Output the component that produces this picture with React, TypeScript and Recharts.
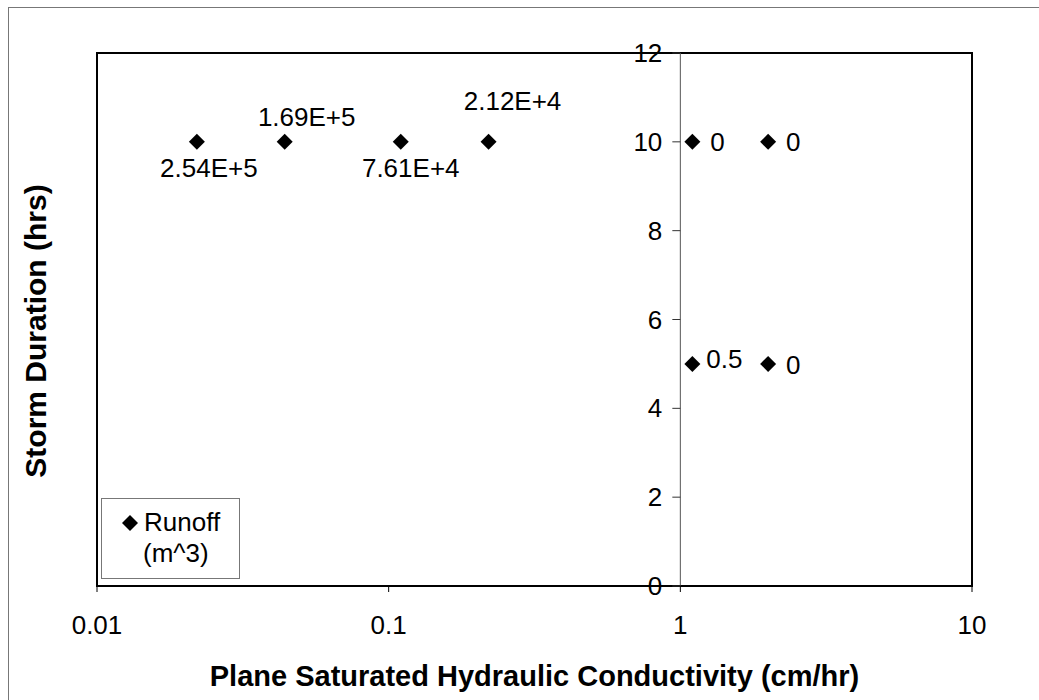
import { ReferenceArea, ReferenceLine, Scatter, ScatterChart, XAxis, YAxis } from "recharts";

// Runoff (m^3) by plane conductivity and storm duration
const conductivity = [0.022, 0.044, 0.11, 0.22, 1.1, 2, 1.1, 2];
const duration = [10, 10, 10, 10, 10, 10, 5, 5];
const runoffLabels = ["2.54E+5", "1.69E+5", "7.61E+4", "2.12E+4", "0", "0", "0.5", "0"];
const xTicks = [0.01, 0.1, 1, 10];
const yTicks = [0, 2, 4, 6, 8, 10, 12];

// hand-placed label offsets (dx, dy) from each point, like the dragged Excel labels
const labelOffsets: [number, number][] = [
  [12, 26], [22, -25], [10, 26], [24, -41],
  [25, 0], [25, 0], [32, -5], [25, 1],
];

const FONT = "'Liberation Sans', Arial, sans-serif";
const W = 1039;
const H = 700;
const Y_AXIS_W = 1;
const M = { top: 53, right: 67, bottom: 0, left: 97 - Y_AXIS_W };
const X_AXIS_H = 114;
const PLOT_LEFT = M.left + Y_AXIS_W;
const PLOT_W = W - PLOT_LEFT - M.right;
// the y axis crosses the x axis at 1 on a 0.01..10 log scale
const AXIS_X = PLOT_LEFT + (PLOT_W * (Math.log10(1) - Math.log10(0.01))) / (Math.log10(10) - Math.log10(0.01));

const data = conductivity.map((k, i) => ({ k, d: duration[i], label: runoffLabels[i], i }));

function Point(props: any) {
  const { cx, cy, payload } = props;
  if (cx == null || cy == null) return null;
  const [dx, dy] = labelOffsets[payload.i];
  const r = 8;
  return (
    <g>
      <polygon points={`${cx},${cy - r} ${cx + r},${cy} ${cx},${cy + r} ${cx - r},${cy}`} fill="#000" />
      <text x={cx + dx} y={cy + dy} textAnchor="middle" dominantBaseline="central" fontSize={26} fontFamily={FONT} fill="#000">
        {payload.label}
      </text>
    </g>
  );
}

function YTick(props: any) {
  const { y, payload } = props;
  return (
    <g>
      <line x1={AXIS_X - 8} x2={AXIS_X} y1={y} y2={y} stroke="#333" />
      <text x={AXIS_X - 18} y={y} textAnchor="end" dominantBaseline="central" fontSize={26} fontFamily={FONT} fill="#000">
        {payload.value}
      </text>
    </g>
  );
}

export default function App() {
  return (
    <div style={{ position: "absolute", left: 0, top: 0, width: W, height: H, background: "#fff", fontFamily: FONT }}>
      <div style={{ position: "absolute", left: 8, top: 7, right: 0, bottom: 0, borderLeft: "1px solid #777", borderTop: "1px solid #777" }} />
      <ScatterChart width={W} height={H} margin={M}>
        <XAxis
          type="number"
          dataKey="k"
          scale="log"
          domain={[0.01, 10]}
          ticks={xTicks}
          allowDataOverflow
          height={X_AXIS_H}
          tickFormatter={(v: number) => String(v)}
          tick={{ fontSize: 26, fill: "#000", fontFamily: FONT }}
          tickSize={6}
          tickMargin={24}
          stroke="#000"
          label={{
            value: "Plane Saturated Hydraulic Conductivity (cm/hr)",
            position: "insideBottom",
            offset: 14,
            style: { fontSize: 29, fontWeight: "bold", fill: "#000", fontFamily: FONT },
          }}
        />
        <YAxis
          type="number"
          dataKey="d"
          domain={[0, 12]}
          ticks={yTicks}
          width={Y_AXIS_W}
          axisLine={false}
          tickLine={false}
          interval={0}
          tick={(p: any) => <YTick {...p} />}
        />
        <ReferenceArea x1={0.01} x2={10} y1={0} y2={12} fill="none" stroke="#000" strokeWidth={2} ifOverflow="extendDomain" />
        <ReferenceLine x={1} stroke="#555" strokeWidth={1} />
        <Scatter data={data} shape={<Point />} isAnimationActive={false} />
      </ScatterChart>
      <div
        style={{
          position: "absolute",
          left: 36,
          top: 331,
          transform: "translate(-50%, -50%) rotate(-90deg)",
          whiteSpace: "nowrap",
          fontSize: 30,
          fontWeight: "bold",
        }}
      >
        Storm Duration (hrs)
      </div>
      <div
        style={{
          position: "absolute",
          left: 101,
          top: 498,
          width: 139,
          height: 81,
          border: "1px solid #777",
          fontSize: 26,
          lineHeight: "31px",
          boxSizing: "border-box",
          paddingTop: 8,
        }}
      >
        <div style={{ display: "flex", alignItems: "center" }}>
          <svg width={42} height={20} style={{ flex: "none" }}>
            <polygon points="28,2 36,10 28,18 20,10" fill="#000" />
          </svg>
          <span>Runoff</span>
        </div>
        <div style={{ paddingLeft: 41 }}>(m^3)</div>
      </div>
    </div>
  );
}
